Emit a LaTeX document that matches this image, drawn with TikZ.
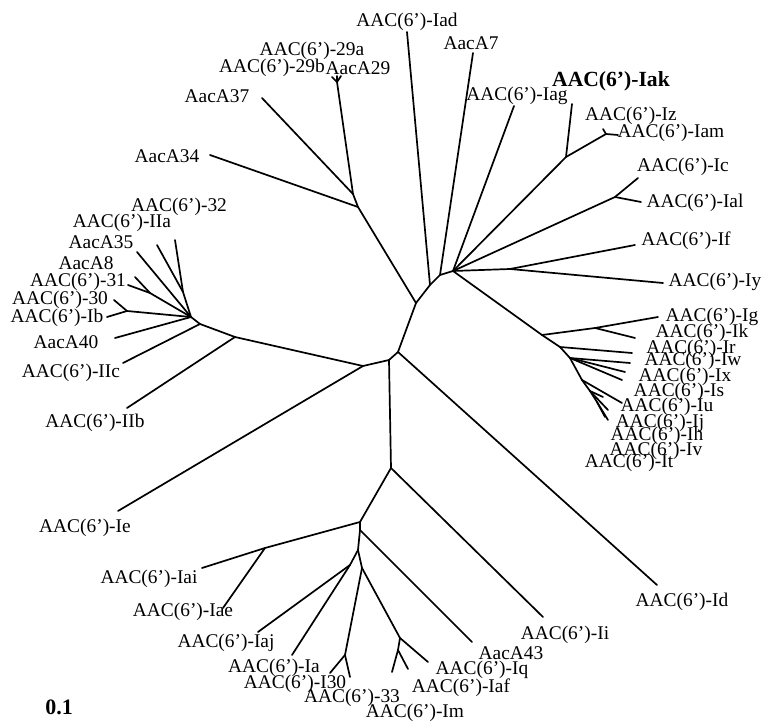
\documentclass[tikz,border=0pt]{standalone}
\usepackage{fontspec}
\setmainfont{Liberation Serif}

\begin{document}
\begin{tikzpicture}[x=0.5pt, y=-0.5pt,
  branch/.style={line width=0.85pt, line cap=round, line join=round},
  leaf/.style={font=\fontsize{9.7}{11}\selectfont, inner sep=0pt}]
\useasboundingbox (0,0) rectangle (762,722);

% inner junctions
\coordinate (A) at (416,303);
\coordinate (B) at (398,352);
\coordinate (C) at (389,360);
\coordinate (D) at (363,366);
\coordinate (E) at (391,468);
\coordinate (N) at (358,207);
\coordinate (M) at (353,194);
\coordinate (c29) at (337,82);
\coordinate (P) at (430,285);
\coordinate (Q) at (440,275);
\coordinate (R) at (453,271);
\coordinate (S) at (566,157);
\coordinate (T) at (606,134);
\coordinate (U) at (615,197);
\coordinate (W) at (510,269);
\coordinate (X) at (542,335);
\coordinate (Y) at (595,328);
\coordinate (Z) at (560,347);
\coordinate (Z2) at (570,358);
\coordinate (Z3) at (582,380);
\coordinate (Z4) at (590,391);
\coordinate (Z5) at (597,402);
\coordinate (F) at (235,337);
\coordinate (G) at (200,324);
\coordinate (H) at (191,317);
\coordinate (J) at (127,311);
\coordinate (K) at (150,293);
\coordinate (L) at (183,292);
\coordinate (F2) at (360,522);
\coordinate (G2) at (360,530);
\coordinate (H2) at (358,550);
\coordinate (I2) at (350,565);
\coordinate (H3) at (362,568);
\coordinate (J2) at (345,655);
\coordinate (K2) at (400,638);
\coordinate (K3) at (398,650);
\coordinate (V) at (265,548);

% tips
\coordinate (tIad) at (407,32);
\coordinate (tAacA7) at (473,53);
\coordinate (tIag) at (514,106);
\coordinate (tIak) at (572,104);
\coordinate (tIz) at (603,129);
\coordinate (tIam) at (618,135);
\coordinate (tIc) at (638,178);
\coordinate (tIal) at (641,202);
\coordinate (tIf) at (635,245);
\coordinate (tIy) at (663,283);
\coordinate (tIg) at (658,317);
\coordinate (tIk) at (635,338);
\coordinate (tIr) at (632,353);
\coordinate (tIw) at (630,363);
\coordinate (tIx) at (625,372);
\coordinate (tIs) at (622,380);
\coordinate (tIu) at (622,403);
\coordinate (tIj) at (603,397);
\coordinate (tIh) at (608,410);
\coordinate (tIv) at (608,420);
\coordinate (tIt) at (605,417);
\coordinate (tId) at (657,585);
\coordinate (tIi) at (543,617);
\coordinate (tAacA43) at (472,642);
\coordinate (tIq) at (428,662);
\coordinate (tIaf) at (408,669);
\coordinate (tIm) at (392,672);
\coordinate (t33) at (350,677);
\coordinate (tI30) at (330,673);
\coordinate (tIa) at (292,655);
\coordinate (tIaj) at (258,632);
\coordinate (tIae) at (223,608);
\coordinate (tIai) at (202,568);
\coordinate (tIe) at (118,511);
\coordinate (tIIb) at (127,408);
\coordinate (tIIc) at (123,363);
\coordinate (tAacA40) at (115,338);
\coordinate (tIb) at (107,317);
\coordinate (t30) at (114,300);
\coordinate (t31) at (128,285);
\coordinate (tAacA8) at (135,277);
\coordinate (tAacA35) at (137,252);
\coordinate (tIIa) at (157,245);
\coordinate (t32) at (175,240);
\coordinate (tAacA34) at (210,155);
\coordinate (tAacA37) at (262,98);
\coordinate (t29a) at (337,76);
\coordinate (t29b) at (332,77);
\coordinate (tAacA29) at (341,76);

% backbone
\draw[branch] (M) -- (N) -- (A) -- (P) -- (Q) -- (R);
\draw[branch] (A) -- (B) -- (C) -- (D);
\draw[branch] (B) -- (tId);
\draw[branch] (C) -- (E);

% upper left
\draw[branch] (N) -- (tAacA34);
\draw[branch] (M) -- (tAacA37);
\draw[branch] (M) -- (c29);
\foreach \t in {t29a,t29b,tAacA29} \draw[branch] (c29) -- (\t);

% upper right fan
\draw[branch] (P) -- (tIad);
\draw[branch] (Q) -- (tAacA7);
\draw[branch] (R) -- (tIag);
\draw[branch] (R) -- (S) -- (tIak);
\draw[branch] (S) -- (T) -- (tIz);
\draw[branch] (T) -- (tIam);
\draw[branch] (R) -- (U) -- (tIc);
\draw[branch] (U) -- (tIal);
\draw[branch] (R) -- (W) -- (tIf);
\draw[branch] (W) -- (tIy);

% Ig cluster
\draw[branch] (R) -- (X) -- (Y) -- (tIg);
\draw[branch] (Y) -- (tIk);
\draw[branch] (X) -- (Z) -- (tIr);
\draw[branch] (Z) -- (Z2);
\foreach \t in {tIw,tIx,tIs} \draw[branch] (Z2) -- (\t);
\draw[branch] (Z2) -- (Z3) -- (tIu);
\draw[branch] (Z3) -- (Z4) -- (tIj);
\draw[branch] (Z4) -- (tIh);
\draw[branch] (Z4) -- (Z5) -- (tIv);
\draw[branch] (Z5) -- (tIt);

% left cluster
\draw[branch] (D) -- (tIe);
\draw[branch] (D) -- (F) -- (tIIb);
\draw[branch] (F) -- (G) -- (tIIc);
\draw[branch] (G) -- (H) -- (tAacA40);
\draw[branch] (H) -- (J) -- (tIb);
\draw[branch] (J) -- (t30);
\draw[branch] (H) -- (K) -- (t31);
\draw[branch] (K) -- (tAacA8);
\draw[branch] (H) -- (tAacA35);
\draw[branch] (H) -- (L) -- (tIIa);
\draw[branch] (L) -- (t32);

% lower cluster
\draw[branch] (E) -- (tIi);
\draw[branch] (E) -- (F2) -- (V) -- (tIai);
\draw[branch] (V) -- (tIae);
\draw[branch] (F2) -- (G2) -- (tAacA43);
\draw[branch] (G2) -- (H2) -- (I2) -- (tIaj);
\draw[branch] (I2) -- (tIa);
\draw[branch] (H2) -- (H3) -- (J2) -- (tI30);
\draw[branch] (J2) -- (t33);
\draw[branch] (H3) -- (K2) -- (tIq);
\draw[branch] (K2) -- (K3) -- (tIaf);
\draw[branch] (K3) -- (tIm);

% labels
\node[leaf] (lIad) at (407,22) {AAC(6’)-Iad};
\node[leaf] (lAacA7) at (471,43) {AacA7};
\node[leaf] (lIag) at (517,96) {AAC(6’)-Iag};
\node[leaf, font=\fontsize{10.8}{12}\selectfont\bfseries] (lIak) at (611,81) {AAC(6’)-Iak};
\node[leaf] (lIz) at (631,116) {AAC(6’)-Iz};
\node[leaf] (lIam) at (671,133) {AAC(6’)-Iam};
\node[leaf] (lIc) at (683,167) {AAC(6’)-Ic};
\node[leaf] (lIal) at (695,203) {AAC(6’)-Ial};
\node[leaf] (lIf) at (686,241) {AAC(6’)-If};
\node[leaf] (lIy) at (715,282) {AAC(6’)-Iy};
\node[leaf] (lIg) at (712,317) {AAC(6’)-Ig};
\node[leaf] (lIk) at (702,333) {AAC(6’)-Ik};
\node[leaf] (lIr) at (691,349) {AAC(6’)-Ir};
\node[leaf] (lIw) at (693,361) {AAC(6’)-Iw};
\node[leaf] (lIx) at (685,377) {AAC(6’)-Ix};
\node[leaf] (lIs) at (679,392) {AAC(6’)-Is};
\node[leaf] (lIu) at (667,407) {AAC(6’)-Iu};
\node[leaf] (lIj) at (660,423) {AAC(6’)-Ij};
\node[leaf] (lIh) at (657,436) {AAC(6’)-Ih};
\node[leaf] (lIv) at (656,451) {AAC(6’)-Iv};
\node[leaf] (lIt) at (629,463) {AAC(6’)-It};
\node[leaf] (lId) at (682,602) {AAC(6’)-Id};
\node[leaf] (lIi) at (565,635) {AAC(6’)-Ii};
\node[leaf] (lAacA43) at (511,653) {AacA43};
\node[leaf] (lIq) at (482,670) {AAC(6’)-Iq};
\node[leaf] (lIaf) at (461,688) {AAC(6’)-Iaf};
\node[leaf] (lIm) at (415,713) {AAC(6’)-Im};
\node[leaf] (l33) at (352,698) {AAC(6’)-33};
\node[leaf] (lI30) at (295,684) {AAC(6’)-I30};
\node[leaf] (lIa) at (274,668) {AAC(6’)-Ia};
\node[leaf] (lIaj) at (226,643) {AAC(6’)-Iaj};
\node[leaf] (lIae) at (183,612) {AAC(6’)-Iae};
\node[leaf] (lIai) at (149,579) {AAC(6’)-Iai};
\node[leaf] (lIe) at (85,528) {AAC(6’)-Ie};
\node[leaf] (lIIb) at (95,423) {AAC(6’)-IIb};
\node[leaf] (lIIc) at (71,373) {AAC(6’)-IIc};
\node[leaf] (lAacA40) at (66,342) {AacA40};
\node[leaf] (lIb) at (57,318) {AAC(6’)-Ib};
\node[leaf] (l30) at (60,300) {AAC(6’)-30};
\node[leaf] (l31) at (78,282) {AAC(6’)-31};
\node[leaf] (lAacA8) at (86,263) {AacA8};
\node[leaf] (lAacA35) at (101,242) {AacA35};
\node[leaf] (lIIa) at (122,223) {AAC(6’)-IIa};
\node[leaf] (l32) at (179,207) {AAC(6’)-32};
\node[leaf] (lAacA34) at (167,156) {AacA34};
\node[leaf] (lAacA37) at (217,96) {AacA37};
\node[leaf] (l29a) at (312,51) {AAC(6’)-29a};
\node[leaf] (l29b) at (272,68) {AAC(6’)-29b};
\node[leaf] (lAacA29) at (358,68) {AacA29};

% scale
\node[leaf, font=\fontsize{11}{12}\selectfont\bfseries] (scale) at (59,707) {0.1};
\end{tikzpicture}
\end{document}
